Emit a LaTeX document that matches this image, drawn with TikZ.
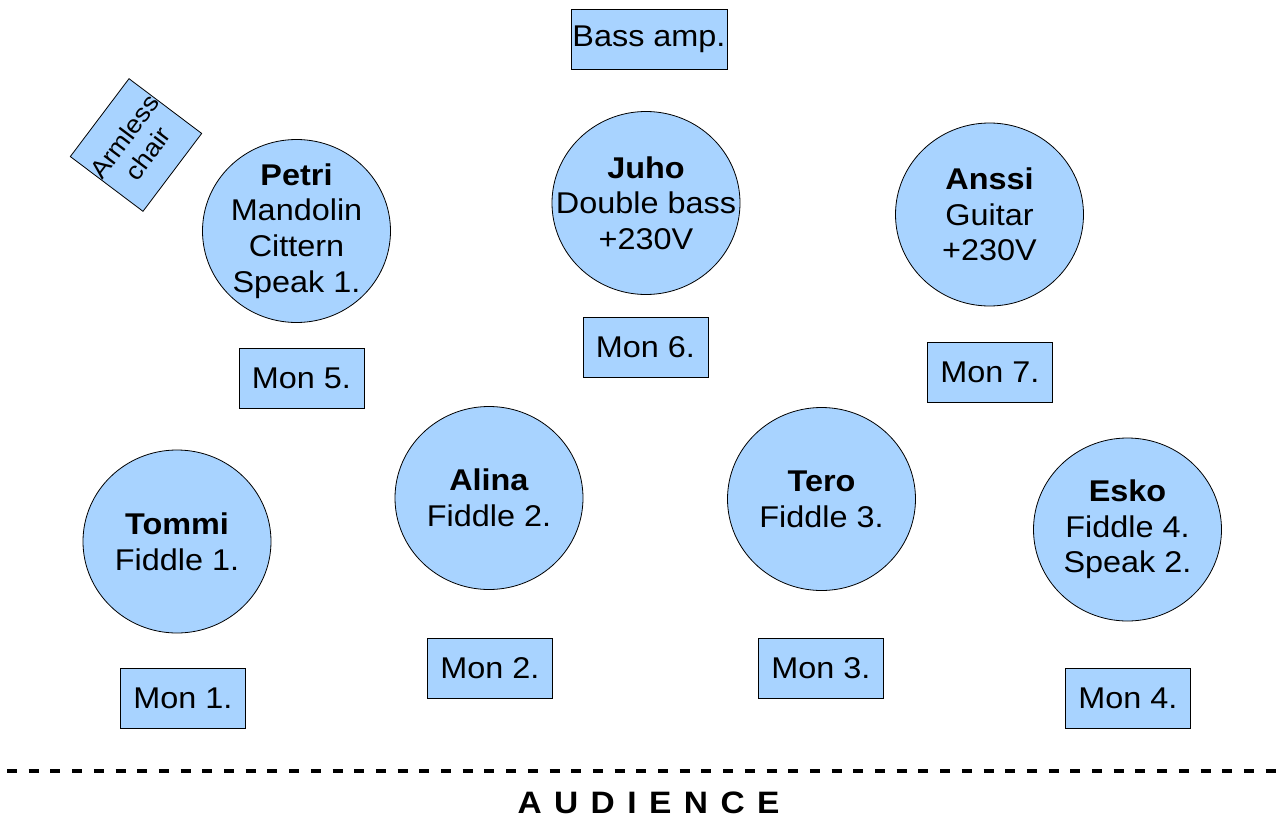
\documentclass[tikz,border=0pt]{standalone}
\usepackage{fontspec}
\setmainfont[FakeStretch=1.08]{Liberation Sans}
\usetikzlibrary{shapes.geometric}
\definecolor{stagefill}{RGB}{168,211,255}
\begin{document}
\begin{tikzpicture}[x=1pt,y=-1pt,
  player/.style={ellipse, draw=black, line width=0.8pt, fill=stagefill,
    minimum width=188pt, minimum height=183pt, inner sep=0pt},
  ptext/.style={align=center, inner sep=0pt, font=\fontsize{30}{35.7}\selectfont},
  monbox/.style={rectangle, draw=black, line width=0.8pt, fill=stagefill,
    minimum width=125pt, minimum height=60pt, inner sep=0pt,
    font=\fontsize{30}{35.7}\selectfont},
  chairbox/.style={rectangle, draw=black, line width=0.8pt, fill=stagefill,
    minimum width=91pt, minimum height=91pt, inner sep=0pt, align=center,
    font=\fontsize{25}{29}\selectfont},
  stageedge/.style={line width=3.5pt, dash pattern=on 10pt off 11.7pt}]
\useasboundingbox (0,0) rectangle (1283,819);

% amp and chair
\node[monbox, minimum width=156pt] (amp) at (649,39) {Bass amp.};
\node[chairbox, rotate=53] (chair) at (136,145) {Armless\\chair};

% back row
\node[player] (petri) at (296.5,231) {};
\node[ptext] (petrit) at (petri.center) {\textbf{Petri}\\Mandolin\\Cittern\\Speak 1.};
\node[player] (juho) at (646,203) {};
\node[ptext] (juhot) at (juho.center) {\textbf{Juho}\\Double bass\\+230V};
\node[player] (anssi) at (989.5,214.5) {};
\node[ptext] (anssit) at (anssi.center) {\textbf{Anssi}\\Guitar\\+230V};

\node[monbox] (mon5) at (301.5,378) {Mon 5.};
\node[monbox] (mon6) at (645.5,347.5) {Mon 6.};
\node[monbox] (mon7) at (990,372.5) {Mon 7.};

% front row
\node[player] (tommi) at (177,541.5) {};
\node[ptext] (tommit) at (tommi.center) {\textbf{Tommi}\\Fiddle 1.};
\node[player] (alina) at (489,498) {};
\node[ptext] (alinat) at (alina.center) {\textbf{Alina}\\Fiddle 2.};
\node[player] (tero) at (821.5,499) {};
\node[ptext] (terot) at (tero.center) {\textbf{Tero}\\Fiddle 3.};
\node[player] (esko) at (1127.5,529.5) {};
\node[ptext] (eskot) at (esko.center) {\textbf{Esko}\\Fiddle 4.\\Speak 2.};

\node[monbox] (mon1) at (183,698.5) {Mon 1.};
\node[monbox] (mon2) at (490,668.5) {Mon 2.};
\node[monbox] (mon3) at (821,668.5) {Mon 3.};
\node[monbox] (mon4) at (1128,698.5) {Mon 4.};

% stage edge and audience
\coordinate (edgeL) at (7,771);
\coordinate (edgeR) at (1283,771);
\draw[stageedge] (edgeL) -- (edgeR);
\node[inner sep=0pt, font=\fontsize{31}{36}\selectfont\bfseries] (aud) at (648.5,803)
  {\makebox[262pt][s]{A\hfill U\hfill D\hfill I\hfill E\hfill N\hfill C\hfill E}};
\end{tikzpicture}
\end{document}
